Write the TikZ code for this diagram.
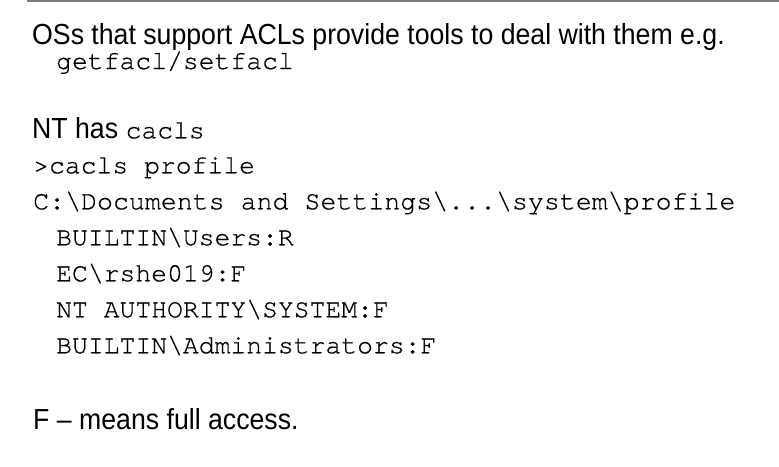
\documentclass[tikz,border=0pt]{standalone}
\usepackage{fontspec}
\setmainfont[FakeStretch=0.92]{Liberation Sans}
\setmonofont[Ligatures=NoCommon, FakeBold=0.6]{TeX Gyre Cursor}
\tikzset{
    slidetext/.style={font=\fontsize{29}{30}\selectfont},
    tty/.style={font=\fontsize{26.4}{28}\ttfamily}
}

\begin{document}
\begin{tikzpicture} [x=1pt, y=-1pt, inner sep=0pt, every node/.style={anchor=base west}]
        \useasboundingbox (0, 0) rectangle (779, 466);
        \draw [line width=2pt, black!50] (27, 1) -- (779, 1);
        \node [slidetext] (intro) at (32, 44.3) {OSs that support ACLs provide tools to deal with them e.g.};
        \node [tty] (tools) at (56, 69) {getfacl/setfacl};
        \node [slidetext] (nt) at (32, 138.3) {NT has {\fontsize{26.4}{28}\ttfamily cacls}};
        \node [tty] (cmd) at (33, 173.3) {>cacls profile};
        \node [tty, font=\fontsize{26.6}{28}\ttfamily] (path) at (33, 209.3) {C:\textbackslash Documents and Settings\textbackslash ...\textbackslash system\textbackslash profile};
        \foreach \entry [count=\ei] in {BUILTIN\textbackslash Users:R, EC\textbackslash rshe019:F, NT AUTHORITY\textbackslash SYSTEM:F, BUILTIN\textbackslash Administrators:F}
        {
            \node [tty] (acl\ei) at (56, 209.3 + 36*\ei) {\entry};
        }
        \node [slidetext] (note) at (33, 429) {F -- means full access.};
    \end{tikzpicture}
\end{document}
